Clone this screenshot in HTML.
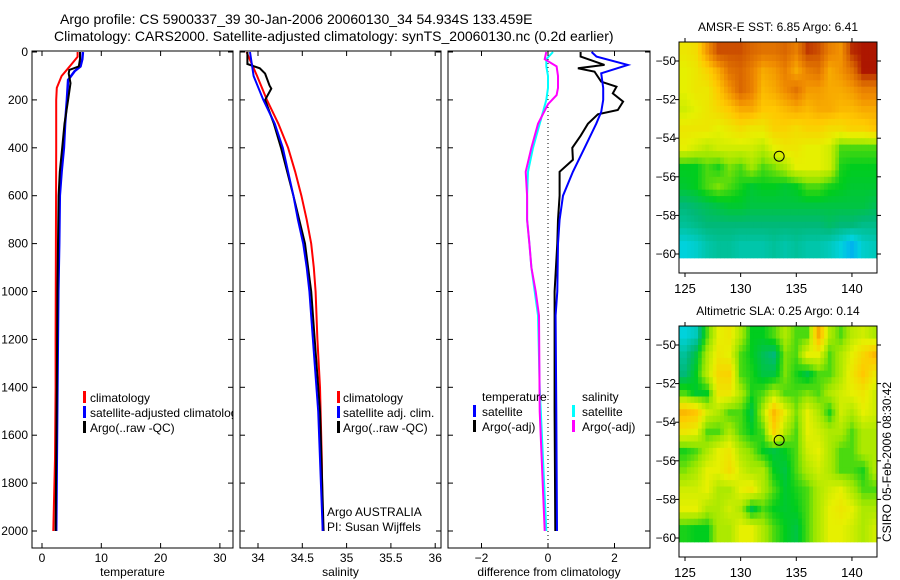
<!DOCTYPE html>
<html><head><meta charset="utf-8"><style>
body{margin:0;background:#fff;}
svg{display:block;font-family:"Liberation Sans",sans-serif;}
</style></head><body>
<svg id="fig" width="900" height="580" viewBox="0 0 900 580" xmlns="http://www.w3.org/2000/svg">
<rect width="900" height="580" fill="#fff"/>
<text x="60" y="24" font-size="14">Argo profile: CS 5900337_39 30-Jan-2006 20060130_34 54.934S 133.459E</text>
<text x="54" y="41" font-size="14">Climatology: CARS2000. Satellite-adjusted climatology: synTS_20060130.nc (0.2d earlier)</text>
<g id="plots"></g>
</svg>
<script>
// ---------- data ----------
const depthTicks=[0,200,400,600,800,1000,1200,1400,1600,1800,2000];
const tempTicks=[0,10,20,30];
const salTicks=[34,34.5,35,35.5,36];
const diffTicks=[-2,0,2];
const tClimD=[0,20,50,80,100,150,200,400,800,1200,1400,1700,2000];
const tClimV=[6.0,6.0,5.0,4.0,3.3,2.5,2.4,2.4,2.35,2.3,2.3,2.2,1.9];
const tSatD=[0,30,60,80,117,200,300,400,500,600,800,1000,1400,2000];
const tSatV=[6.9,6.8,6.5,5.5,4.4,4.2,3.9,3.7,3.3,3.0,2.9,2.75,2.6,2.4];
const tArgoD=[0,30,60,75,90,130,200,300,400,500,600,800,1000,1400,2000];
const tArgoV=[6.4,6.4,6.2,4.6,4.5,4.8,4.4,3.8,3.4,3.0,2.8,2.7,2.6,2.5,2.3];
const sClimD=[0,100,200,300,400,500,600,700,800,900,1000,1200,1400,1700,2000];
const sClimV=[33.87,33.99,34.10,34.23,34.34,34.42,34.49,34.55,34.60,34.63,34.65,34.67,34.70,34.72,34.73];
const sSatD=[0,100,200,300,400,500,600,700,800,900,1000,1200,1500,2000];
const sSatV=[33.91,33.95,34.06,34.19,34.28,34.34,34.40,34.45,34.51,34.55,34.58,34.62,34.68,34.73];
const sArgoD=[0,50,68,90,140,153,200,300,400,600,800,1000,1200,1500,2000];
const sArgoV=[33.88,33.88,34.02,34.08,34.13,34.15,34.08,34.18,34.26,34.40,34.53,34.60,34.64,34.70,34.74];
const dTSatD=[0,30,60,100,150,200,300,400,500,600,700,800,900,1000,1100,1400,2000];
const dTSatV=[0.15,-0.05,-0.05,0,0,-0.05,-0.25,-0.45,-0.6,-0.63,-0.63,-0.56,-0.5,-0.4,-0.3,-0.25,-0.05];
const dTArgoD=[0,30,60,100,150,180,218,300,400,500,600,700,800,900,1000,1100,1500,2000];
const dTArgoV=[-0.05,-0.1,0.26,0.3,0.3,0.26,0,-0.3,-0.5,-0.67,-0.63,-0.63,-0.56,-0.5,-0.37,-0.27,-0.25,-0.1];
const dSSatD=[0,19,54,89,150,200,250,300,400,500,600,700,800,1000,1100,1500,2000];
const dSSatV=[1.31,1.46,2.4,1.6,1.66,1.66,1.6,1.45,1.1,0.75,0.45,0.35,0.3,0.28,0.23,0.25,0.27];
const dSArgoD=[0,19,54,68,82,124,145,173,207,242,260,300,350,400,450,500,600,700,800,1000,1500,2000];
const dSArgoV=[0.98,0.98,1.7,0.9,1.4,1.6,2.06,1.95,2.26,2.1,1.5,1.2,0.98,0.73,0.75,0.35,0.35,0.3,0.28,0.2,0.2,0.22];
const mapLonTicks=[125,130,135,140];
const mapLatTicks=[-50,-52,-54,-56,-58,-60];
const argoLon=133.459, argoLat=-54.934;
const sstGrid=[
[0.62,0.64,0.75,0.85,0.85,0.85,0.82,0.8,0.8,0.82,0.78,0.87,0.85,0.78,0.75,0.88,0.9,0.9],
[0.6,0.62,0.66,0.72,0.8,0.82,0.78,0.72,0.74,0.78,0.72,0.78,0.8,0.72,0.75,0.8,0.9,0.9],
[0.6,0.62,0.62,0.68,0.75,0.82,0.78,0.7,0.72,0.76,0.8,0.74,0.74,0.72,0.72,0.74,0.78,0.78],
[0.58,0.6,0.62,0.65,0.68,0.72,0.72,0.68,0.68,0.7,0.72,0.7,0.72,0.72,0.7,0.7,0.72,0.72],
[0.62,0.62,0.62,0.6,0.62,0.64,0.62,0.62,0.66,0.66,0.64,0.66,0.66,0.64,0.64,0.66,0.66,0.68],
[0.6,0.58,0.56,0.58,0.58,0.58,0.58,0.56,0.6,0.62,0.62,0.6,0.6,0.58,0.5,0.5,0.5,0.5],
[0.47,0.47,0.5,0.48,0.52,0.5,0.54,0.5,0.52,0.55,0.6,0.6,0.6,0.58,0.48,0.47,0.47,0.47],
[0.46,0.47,0.5,0.52,0.5,0.48,0.46,0.47,0.47,0.46,0.47,0.5,0.5,0.48,0.47,0.46,0.46,0.46],
[0.42,0.43,0.44,0.45,0.46,0.46,0.45,0.45,0.45,0.45,0.45,0.45,0.45,0.45,0.45,0.45,0.45,0.44],
[0.4,0.41,0.42,0.42,0.42,0.42,0.42,0.42,0.42,0.42,0.42,0.42,0.42,0.43,0.42,0.42,0.41,0.41],
[0.36,0.37,0.39,0.4,0.4,0.39,0.39,0.39,0.4,0.39,0.4,0.39,0.39,0.38,0.36,0.33,0.37,0.38]];
const slaGrid=[
[0.36,0.38,0.5,0.6,0.62,0.55,0.47,0.47,0.5,0.55,0.5,0.5,0.72,0.55,0.5,0.56,0.58,0.55],
[0.4,0.45,0.55,0.62,0.6,0.5,0.47,0.44,0.42,0.52,0.5,0.6,0.6,0.5,0.55,0.6,0.65,0.7],
[0.42,0.47,0.56,0.65,0.66,0.5,0.48,0.45,0.45,0.52,0.48,0.45,0.5,0.5,0.55,0.62,0.68,0.62],
[0.5,0.46,0.47,0.62,0.62,0.55,0.48,0.5,0.55,0.5,0.5,0.52,0.5,0.55,0.58,0.6,0.62,0.58],
[0.7,0.68,0.58,0.55,0.5,0.5,0.45,0.55,0.7,0.6,0.52,0.6,0.55,0.48,0.58,0.55,0.6,0.58],
[0.62,0.6,0.5,0.5,0.55,0.5,0.47,0.5,0.66,0.55,0.5,0.6,0.58,0.55,0.55,0.5,0.55,0.55],
[0.48,0.5,0.55,0.6,0.62,0.55,0.52,0.47,0.45,0.47,0.5,0.58,0.6,0.55,0.5,0.5,0.55,0.55],
[0.52,0.55,0.6,0.6,0.64,0.58,0.55,0.55,0.47,0.45,0.5,0.55,0.58,0.55,0.5,0.5,0.48,0.55],
[0.58,0.58,0.6,0.55,0.55,0.6,0.62,0.55,0.5,0.46,0.48,0.5,0.55,0.58,0.6,0.55,0.5,0.5],
[0.6,0.6,0.55,0.55,0.58,0.55,0.45,0.5,0.47,0.46,0.47,0.5,0.55,0.6,0.62,0.6,0.55,0.55],
[0.48,0.47,0.47,0.55,0.55,0.6,0.6,0.55,0.5,0.47,0.45,0.5,0.55,0.6,0.6,0.58,0.55,0.58]];

// ---------- drawing ----------
const NS="http://www.w3.org/2000/svg";
const root=document.getElementById('plots');
function mk(tag,attrs,parent){const e=document.createElementNS(NS,tag);for(const k in attrs)e.setAttribute(k,attrs[k]);(parent||root).appendChild(e);return e;}
function txt(x,y,s,size,anchor,parent){const t=mk('text',{x:x,y:y,'font-size':size,'text-anchor':anchor||'start'},parent);t.textContent=s;return t;}

const yTop=51,yBot=548;
function yDepth(d){return 52+d*0.2395;}
const panels=[
 {name:'temperature-panel',x0:32,x1:233,v0:0,px0:42,scale:5.93,ticks:tempTicks,label:'temperature'},
 {name:'salinity-panel',x0:240,x1:441,v0:34,px0:258,scale:88.6,ticks:salTicks,label:'salinity'},
 {name:'difference-panel',x0:448,x1:650,v0:0,px0:548,scale:33.25,ticks:diffTicks,label:'difference from climatology'}];
panels.forEach((p,i)=>{
 p.fx=v=>p.px0+(v-p.v0)*p.scale;
 const g=mk('g',{});
 
 
 p.g=g;
 const cid='clip'+i;
 const cp=mk('clipPath',{id:cid},g);mk('rect',{x:p.x0,y:yTop,width:p.x1-p.x0,height:yBot-yTop},cp);
 p.clip=mk('g',{'clip-path':'url(#'+cid+')'},g);
 mk('rect',{x:p.x0,y:yTop,width:p.x1-p.x0,height:yBot-yTop,fill:'none',stroke:'#000','stroke-width':1},g);
 depthTicks.forEach(d=>{const y=yDepth(d);
  mk('line',{x1:p.x0,x2:p.x0+5,y1:y,y2:y,stroke:'#000'},g);
  mk('line',{x1:p.x1-5,x2:p.x1,y1:y,y2:y,stroke:'#000'},g);
  if(i===0){const t=txt(p.x0-4,y+4,String(d),12,'end',g);}
 });
 p.ticks.forEach(v=>{const x=p.fx(v);
  mk('line',{x1:x,x2:x,y1:yBot,y2:yBot-5,stroke:'#000'},g);
  mk('line',{x1:x,x2:x,y1:yTop,y2:yTop+5,stroke:'#000'},g);
  const t=txt(x,562,String(v).replace('-','\u2212'),12,'middle',g);
  
  
 });
 const xl=txt((p.x0+p.x1)/2,576,p.label,12,'middle',g);
 
 
});
function series(p,D,V,color,name,w){
 const pts=D.map((d,k)=>p.fx(V[k]).toFixed(1)+','+yDepth(d).toFixed(1)).join(' ');
 const l=mk('polyline',{points:pts,fill:'none',stroke:color,'stroke-width':w||2,'stroke-linejoin':'miter'},p.clip);
 
 
}
const [P1,P2,P3]=panels;
series(P1,tClimD,tClimV,'#f00','temp-climatology-line');
series(P1,tSatD,tSatV,'#00f','temp-satellite-line',2.5);
series(P1,tArgoD,tArgoV,'#000','temp-argo-line');
series(P2,sClimD,sClimV,'#f00','sal-climatology-line');
series(P2,sArgoD,sArgoV,'#000','sal-argo-line');
series(P2,sSatD,sSatV,'#00f','sal-satellite-line');
const zl=mk('line',{x1:P3.fx(0),x2:P3.fx(0),y1:yTop,y2:yBot,stroke:'#000','stroke-dasharray':'1,3'},P3.clip);


series(P3,dTSatD,dTSatV,'#0ff','diff-temp-satellite-line');
series(P3,dTArgoD,dTArgoV,'#f0f','diff-temp-argo-line');
series(P3,dSArgoD,dSArgoV,'#000','diff-sal-argo-line');
series(P3,dSSatD,dSSatV,'#00f','diff-sal-satellite-line');

function legend(p,bx,tx,y,color,label){
 const g=mk('g',{},p.clip);
 
 
 if(color)mk('rect',{x:bx,y:y-11,width:3,height:12,fill:color},g);
 txt(tx,y,label,12,'start',g);
}
legend(P1,83,90,402,'#f00','climatology');
legend(P1,83,90,417,'#00f','satellite-adjusted climatology');
legend(P1,83,90,432,'#000','Argo(..raw -QC)');
legend(P2,337,343,402,'#f00','climatology');
legend(P2,337,343,417,'#00f','satellite adj. clim.');
legend(P2,337,343,432,'#000','Argo(..raw -QC)');
legend(P3,0,482,401,null,'temperature');
legend(P3,473,482,416,'#00f','satellite');
legend(P3,473,482,431,'#000','Argo(-adj)');
legend(P3,0,582,401,null,'salinity');
legend(P3,572,582,416,'#0ff','satellite');
legend(P3,572,582,431,'#f0f','Argo(-adj)');
const a1=txt(327,516,'Argo AUSTRALIA',12,'start',P2.g);


const a2=txt(327,531,'PI: Susan Wijffels',12,'start',P2.g);



// ---------- maps ----------
const stops=[[0.30,[0,150,255]],[0.36,[0,210,220]],[0.42,[0,185,120]],[0.47,[0,205,30]],[0.53,[150,230,0]],[0.6,[230,240,0]],[0.68,[255,200,0]],[0.76,[240,140,0]],[0.84,[210,90,0]],[0.92,[160,0,0]]];
function cmap(v){
 if(v<=stops[0][0])return 'rgb('+stops[0][1]+')';
 for(let k=1;k<stops.length;k++){if(v<=stops[k][0]){const a=stops[k-1],b=stops[k],t=(v-a[0])/(b[0]-a[0]);
  return 'rgb('+a[1].map((c,j)=>Math.round(c+(b[1][j]-c)*t)).join(',')+')';}}
 return 'rgb('+stops[stops.length-1][1]+')';
}
function sample(grid,r,c){ // bilinear on cell centres
 const R=grid.length,C=grid[0].length;
 r=Math.max(0,Math.min(R-1,r));c=Math.max(0,Math.min(C-1,c));
 const r0=Math.floor(r),c0=Math.floor(c),r1=Math.min(R-1,r0+1),c1=Math.min(C-1,c0+1),fr=r-r0,fc=c-c0;
 return grid[r0][c0]*(1-fr)*(1-fc)+grid[r0][c1]*(1-fr)*fc+grid[r1][c0]*fr*(1-fc)+grid[r1][c1]*fr*fc;
}
function drawMap(grid,oy,title,name){
 const g=mk('g',{});
 
 
 const bx0=679,bx1=877,by0=42+oy,by1=273+oy;
 const fx=lon=>685+(lon-125)*11.13;
 const fy=lat=>61+oy+(-50-lat)*19.3;
 const cid='mclip'+oy;
 const cp=mk('clipPath',{id:cid},g);mk('rect',{x:bx0,y:by0,width:bx1-bx0,height:by1-by0},cp);
 const cg=mk('g',{'clip-path':'url(#'+cid+')'},g);
 const step=1/3;
 for(let lat=-49;lat>-60.2;lat-=step){
  for(let lon=124.5;lon<142.5;lon+=step){
   const r=(-49-(lat-step/2))-0.5, c=(lon+step/2-124.5)-0.5;
   const v=sample(grid,r,c);
   const x=fx(lon),y=fy(lat);
   const h=Math.min(fy(lat-step),fy(-60.2))-y;
   if(h<=0)continue;
   const cell=mk('rect',{x:x.toFixed(1),y:y.toFixed(1),width:(11.13*step+0.5).toFixed(2),height:(h+0.5).toFixed(2),fill:cmap(v)},cg);
   
   
  }
 }
 mk('rect',{x:bx0,y:by0,width:bx1-bx0,height:by1-by0,fill:'none',stroke:'#000'},g);
 mapLatTicks.forEach(l=>{const y=fy(l);
  mk('line',{x1:bx0,x2:bx0-4,y1:y,y2:y,stroke:'#000'},g);
  mk('line',{x1:bx1,x2:bx1+4,y1:y,y2:y,stroke:'#000'},g);
  const t=txt(bx0-3,y+4,String(l).replace('-','\u2212'),12,'end',g);
  
  
 });
 mapLonTicks.forEach(l=>{const x=fx(l);
  mk('line',{x1:x,x2:x,y1:by0,y2:by0-4,stroke:'#000'},g);
  mk('line',{x1:x,x2:x,y1:by1,y2:by1+4,stroke:'#000'},g);
  const t=txt(x,by1+20,String(l),13,'middle',g);
  
  
 });
 const c=mk('circle',{cx:fx(argoLon),cy:fy(argoLat),r:5,fill:'none',stroke:'#000','stroke-width':1},g);
 
 
 const t=txt(778,by0-11,title,12,'middle',g);
 
 
}
drawMap(sstGrid,0,'AMSR-E SST: 6.85 Argo: 6.41','sst-map');
drawMap(slaGrid,284,'Altimetric SLA: 0.25 Argo: 0.14','sla-map');
const stamp=txt(0,0,'CSIRO 05-Feb-2006 08:30:42',12,'middle');
stamp.setAttribute('transform','translate(891,462) rotate(-90)');


</script>
</body></html>
